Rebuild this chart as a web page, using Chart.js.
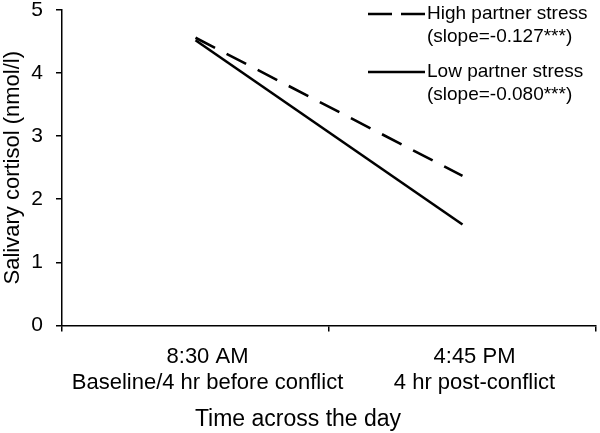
<!DOCTYPE html>
<html>
<head>
<meta charset="utf-8">
<script src="https://cdn.jsdelivr.net/npm/chart.js@4.4.1/dist/chart.umd.min.js"></script>
<style>
  html, body { margin: 0; padding: 0; background: #fff; }
  #wrap { width: 600px; height: 433px; position: relative; }
</style>
</head>
<body>
<div id="wrap"><canvas id="c" width="600" height="433"></canvas></div>
<script>
// ---- data ----
const categories = [
  ["8:30 AM", "Baseline/4 hr before conflict"],
  ["4:45 PM", "4 hr post-conflict"]
];
const highStress = [4.56, 2.37];
const lowStress = [4.52, 1.60];
const highLabel = ["High partner stress", "(slope=-0.127***)"];
const lowLabel = ["Low partner stress", "(slope=-0.080***)"];
const yTicks = [0, 1, 2, 3, 4, 5];
const yTitle = "Salivary cortisol (nmol/l)";
const xTitle = "Time across the day";

const FONT = "'Liberation Sans', Arial, Helvetica, sans-serif";

const legendPlugin = {
  id: 'customLegend',
  afterDraw(chart) {
    const ctx = chart.ctx;
    const W = chart.width;
    const x0 = W - 232, x1 = W - 175, tx = W - 173;
    const rows = [14, 72];
    ctx.save();
    chart.data.datasets.forEach((ds, i) => {
      const y = rows[i];
      ctx.beginPath();
      ctx.lineWidth = 2.5;
      ctx.strokeStyle = '#000';
      ctx.setLineDash(ds.legendDash || []);
      ctx.moveTo(x0, y);
      ctx.lineTo(x1, y);
      ctx.stroke();
      ctx.setLineDash([]);
      ctx.fillStyle = '#000';
      ctx.font = "19px " + FONT;
      ctx.textBaseline = 'middle';
      ctx.textAlign = 'left';
      ds.labelLines.forEach((t, k) => ctx.fillText(t, tx, y + k * 23));
    });
    ctx.restore();
  }
};

new Chart(document.getElementById('c'), {
  type: 'line',
  data: {
    labels: categories,
    datasets: [
      {
        label: highLabel.join(' '),
        labelLines: highLabel,
        data: highStress,
        borderColor: '#000',
        borderWidth: 2.6,
        borderDash: [22, 13],
        legendDash: [24, 9],
        pointRadius: 0,
        tension: 0,
        fill: false
      },
      {
        label: lowLabel.join(' '),
        labelLines: lowLabel,
        data: lowStress,
        borderColor: '#000',
        borderWidth: 2.6,
        legendDash: [],
        pointRadius: 0,
        tension: 0,
        fill: false
      }
    ]
  },
  options: {
    responsive: false,
    animation: false,
    layout: { padding: { top: 10, right: 4, left: 0, bottom: 0 } },
    plugins: {
      legend: { display: false },
      tooltip: { enabled: false },
      title: {
        display: true,
        position: 'bottom',
        text: xTitle,
        color: '#000',
        font: { family: FONT, size: 23, weight: 'normal', lineHeight: 1.2 },
        padding: { top: 0, bottom: 0 }
      }
    },
    scales: {
      x: {
        type: 'category',
        offset: true,
        grid: {
          display: true,
          drawOnChartArea: false,
          drawTicks: true,
          tickLength: 6,
          color: '#000',
          lineWidth: 1.5,
          offset: true
        },
        border: { display: true, color: '#000', width: 1.5 },
        ticks: {
          color: '#000',
          font: { family: FONT, size: 22, lineHeight: 1.2 },
          padding: 12,
          labelOffset: 12,
          maxRotation: 0,
          autoSkip: false
        },
        afterFit(scale) { scale.height = 80; scale.paddingLeft = 0; scale.paddingRight = 0; }
      },
      y: {
        min: 0,
        max: 5,
        afterBuildTicks(scale) { scale.ticks = yTicks.map(v => ({ value: v })); },
        grid: {
          display: true,
          drawOnChartArea: false,
          drawTicks: true,
          tickLength: 6,
          color: '#000',
          lineWidth: 1.5
        },
        border: { display: true, color: '#000', width: 1.5 },
        ticks: {
          color: '#000',
          font: { family: FONT, size: 21 },
          padding: 13
        },
        title: {
          display: true,
          text: yTitle,
          color: '#000',
          font: { family: FONT, size: 22 },
          padding: { top: 0, bottom: 0 }
        },
        afterFit(scale) { scale.width = 62; scale.paddingTop = 0; scale.paddingBottom = 0; }
      }
    }
  },
  plugins: [legendPlugin]
});
</script>
</body>
</html>
